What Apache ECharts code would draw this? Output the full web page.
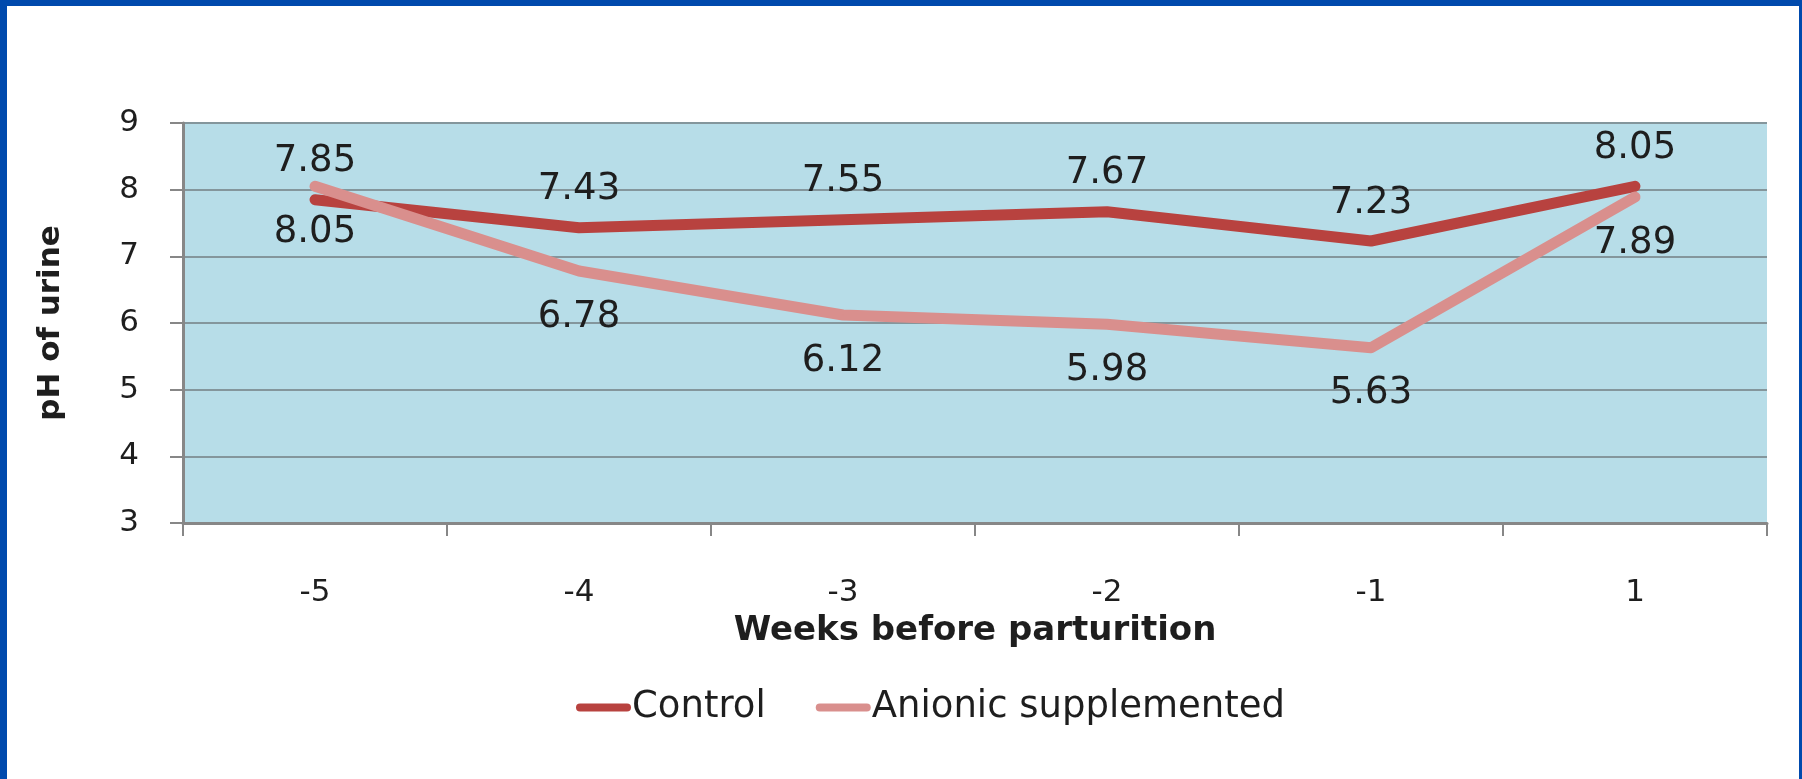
<!DOCTYPE html>
<html>
<head>
<meta charset="utf-8">
<script src="https://cdn.jsdelivr.net/npm/echarts@6/dist/echarts.min.js"></script>
<style>
  html, body { margin: 0; padding: 0; background: #ffffff; }
  #chart { position: absolute; left: 0; top: 0; width: 1802px; height: 779px; }
  .bd { position: absolute; background: #004aad; }
</style>
</head>
<body>
<div id="chart"></div>
<div class="bd" style="left:0;top:0;width:1802px;height:6px;"></div>
<div class="bd" style="left:0;top:0;width:7px;height:779px;"></div>
<div class="bd" style="left:1799px;top:0;width:3px;height:779px;"></div>
<script>
// ---- data ----
const categories = ['-5', '-4', '-3', '-2', '-1', '1'];
const controlValues = [7.85, 7.43, 7.55, 7.67, 7.23, 8.05];
const anionicValues = [8.05, 6.78, 6.12, 5.98, 5.63, 7.89];
const seriesNames = ['Control', 'Anionic supplemented'];
const yMin = 3, yMax = 9, yInterval = 1;
const xTitle = 'Weeks before parturition';
const yTitle = 'pH of urine';

const FONT = "'DejaVu Sans', sans-serif";
const TXT = '#1e1e1e';
const AXIS = '#878787';
const C1 = '#b8423f';
const C2 = '#d98f8d';

const chart = echarts.init(document.getElementById('chart'), null, { renderer: 'canvas' });
chart.setOption({
  animation: false,
  backgroundColor: '#ffffff',
  textStyle: { fontFamily: FONT },
  grid: {
    left: 183, right: 35, top: 123, bottom: 256,
    show: true, backgroundColor: '#b7dde8', borderWidth: 0
  },
  legend: {
    data: seriesNames,
    left: 571, top: 684,
    itemWidth: 55, itemHeight: 9, itemGap: 50,
    icon: 'path://M4,0 H51 A4,4 0 0 1 51,8 H4 A4,4 0 0 1 4,0 Z',
    textStyle: { fontFamily: FONT, fontSize: 37, color: TXT, padding: [0, 0, 0, -4] }
  },
  xAxis: {
    type: 'category',
    data: categories,
    boundaryGap: true,
    name: xTitle,
    nameLocation: 'middle',
    nameGap: 91,
    nameTextStyle: { fontFamily: FONT, fontSize: 34, fontWeight: 'bold', color: TXT },
    axisLine: { show: true, lineStyle: { color: AXIS, width: 3 } },
    axisTick: { show: true, alignWithLabel: false, length: 13, lineStyle: { color: AXIS, width: 2 } },
    axisLabel: { fontFamily: FONT, fontSize: 31, color: TXT, margin: 54 },
    splitLine: { show: false }
  },
  yAxis: {
    type: 'value',
    min: yMin, max: yMax, interval: yInterval,
    name: yTitle,
    nameLocation: 'middle',
    nameGap: 117,
    nameRotate: 90,
    nameTextStyle: { fontFamily: FONT, fontSize: 31, fontWeight: 'bold', color: TXT },
    axisLine: { show: true, lineStyle: { color: AXIS, width: 3 } },
    axisTick: { show: true, length: 13, lineStyle: { color: AXIS, width: 2 } },
    axisLabel: { fontFamily: FONT, fontSize: 31, color: TXT, margin: 44 },
    splitLine: { show: true, lineStyle: { color: '#84969c', width: 2 } }
  },
  series: [
    {
      name: seriesNames[0],
      type: 'line',
      data: controlValues,
      symbol: 'circle',
      symbolSize: 1,
      showSymbol: true,
      itemStyle: { color: C1 },
      color: C1,
      lineStyle: { width: 11, color: C1, cap: 'round', join: 'round' },
      label: {
        show: true, position: 'top', distance: 19,
        fontFamily: FONT, fontSize: 37, color: TXT,
        formatter: p => p.value.toFixed(2)
      },
      labelLayout: { hideOverlap: false },
      z: 3
    },
    {
      name: seriesNames[1],
      type: 'line',
      data: anionicValues,
      symbol: 'circle',
      symbolSize: 1,
      showSymbol: true,
      itemStyle: { color: C2 },
      color: C2,
      lineStyle: { width: 11, color: C2, cap: 'round', join: 'round' },
      label: {
        show: true, position: 'bottom', distance: 27,
        fontFamily: FONT, fontSize: 37, color: TXT,
        formatter: p => p.value.toFixed(2)
      },
      labelLayout: { hideOverlap: false },
      z: 4
    }
  ]
});
</script>
</body>
</html>
